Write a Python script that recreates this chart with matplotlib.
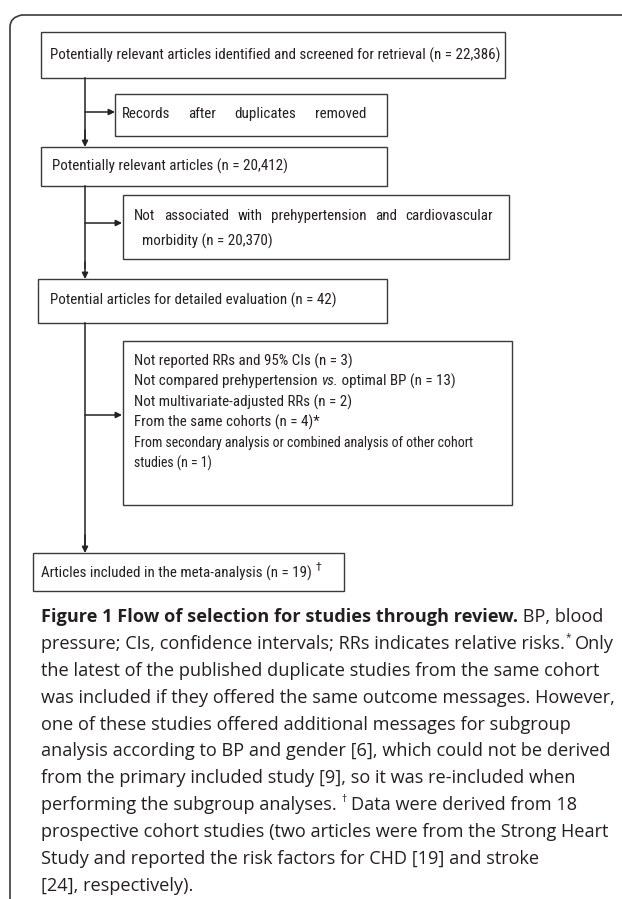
import matplotlib.pyplot as plt
from matplotlib import font_manager
from matplotlib.path import Path
from matplotlib.patches import PathPatch, Rectangle

# counts shown in the flow
n_screened = 22386
n_relevant = 20412
n_not_assoc = 20370
n_detailed = 42
n_excluded = [3, 13, 2, 4, 1]
n_included = 19

exclusion_reasons = [
    "Not reported RRs and 95% CIs",
    "Not compared prehypertension vs. optimal BP",
    "Not multivariate-adjusted RRs",
    "From the same cohorts",
    "From secondary analysis or combined analysis of other cohort studies",
]

caption_lines = [
    "pressure; CIs, confidence intervals; RRs indicates relative risks.",
    "the latest of the published duplicate studies from the same cohort",
    "was included if they offered the same outcome messages. However,",
    "one of these studies offered additional messages for subgroup",
    "analysis according to BP and gender [6], which could not be derived",
    "from the primary included study [9], so it was re-included when",
    "performing the subgroup analyses.",
    "prospective cohort studies (two articles were from the Strong Heart",
    "Study and reported the risk factors for CHD [19] and stroke",
    "[24], respectively).",
]

names = {f.name for f in font_manager.fontManager.ttflist}
box_font = 'Liberation Sans'
for cand in ['Liberation Sans Narrow', 'Arial Narrow', 'Nimbus Sans Narrow', 'Roboto Condensed']:
    if cand in names:
        box_font = cand
        break
cap_font = 'Open Sans'
ink = '#231f20'
line_c = '#3a3a3a'

fig = plt.figure(figsize=(6.22, 8.99), dpi=100)
ax = fig.add_axes([0, 0, 1, 1])
ax.set_xlim(0, 622)
ax.set_ylim(899, 0)
ax.axis('off')
renderer = fig.canvas.get_renderer()


def wpx(t):
    return t.get_window_extent(renderer).width


def fit_size(s, target, **kw):
    # font size that makes string s about target pixels wide
    t = ax.text(0, 0, s, fontsize=10, **kw)
    w = wpx(t)
    t.remove()
    return 10 * target / w


line1 = f"Potentially relevant articles identified and screened for retrieval (n = {n_screened:,})"
bsize = fit_size(line1, 447, family=box_font)


def box(x0, y0, x1, y1):
    ax.add_patch(Rectangle((x0, y0), x1 - x0, y1 - y0, fill=False,
                           ec=line_c, lw=1.0))


def btext(x, y, s, size=None, **kw):
    return ax.text(x, y, s, fontsize=size or bsize, family=box_font, color=ink,
                   va='center', **kw)


def justified(x0, x1, y, s):
    ts = [btext(0, y, w) for w in s.split()]
    ws = [wpx(t) for t in ts]
    gap = (x1 - x0 - sum(ws)) / (len(ts) - 1)
    x = x0
    for t, w in zip(ts, ws):
        t.set_x(x)
        x += w + gap


def arrow(x0, y0, x1, y1):
    ax.annotate('', xy=(x1, y1), xytext=(x0, y0),
                arrowprops=dict(arrowstyle='-|>', color='#222222', lw=1.1,
                                mutation_scale=9, shrinkA=0, shrinkB=0))


# outer frame with rounded top-left corner
verts = [(10, 899), (10, 27), (10, 17), (22, 15), (622, 15)]
codes = [Path.MOVETO, Path.LINETO, Path.CURVE3, Path.CURVE3, Path.LINETO]
ax.add_patch(PathPatch(Path(verts, codes), fill=False, ec=line_c, lw=1.2))

# box 1
box(41, 32, 505, 78)
btext(50, 55, line1)
# box 2
box(115, 94, 387, 136)
justified(122, 366, 114, "Records after duplicates removed")
# box 3
box(41, 147, 387, 186)
btext(52, 166, f"Potentially relevant articles (n = {n_relevant:,})")
# box 4
box(123, 195, 509, 259)
justified(134, 493, 216, "Not associated with prehypertension and cardiovascular")
btext(142, 241, f"morbidity (n = {n_not_assoc:,})")
# box 5
box(38, 279, 387, 323)
btext(50, 300, f"Potential articles for detailed evaluation (n = {n_detailed})")
# box 6
box(123, 341, 512, 505)
ys6 = [361, 381, 402, 422, 443, 463]
btext(134, ys6[0], f"{exclusion_reasons[0]} (n = {n_excluded[0]})")
t = btext(134, ys6[1], "Not compared prehypertension ")
x = 134 + wpx(t)
t = btext(x, ys6[1], "vs.", style='italic')
x += wpx(t)
btext(x, ys6[1], f" optimal BP (n = {n_excluded[1]})")
btext(134, ys6[2], f"{exclusion_reasons[2]} (n = {n_excluded[2]})")
btext(134, ys6[3], f"{exclusion_reasons[3]} (n = {n_excluded[3]})*")
btext(134, ys6[4], "From secondary analysis or combined analysis of other cohort", size=bsize * 0.92)
btext(134, ys6[5], f"studies (n = {n_excluded[4]})", size=bsize * 0.92)
# box 7
box(33, 553, 344, 591)
t = btext(41, 573, f"Articles included in the meta-analysis (n = {n_included}) ")
ax.text(41 + wpx(t), 566, "\u2020", fontsize=bsize * 0.75, family='DejaVu Sans',
        color=ink, va='center')

# connectors
ax.plot([85, 85], [78, 140], color='#222222', lw=1.1)
arrow(85, 112, 115, 112)
arrow(85, 130, 85, 147)
ax.plot([85, 85], [186, 268], color='#222222', lw=1.1)
arrow(85, 223, 122, 223)
arrow(85, 262, 85, 279)
ax.plot([85, 85], [323, 545], color='#222222', lw=1.1)
arrow(85, 415, 122, 415)
arrow(85, 535, 85, 553)

# caption
head = "Figure 1 Flow of selection for studies through review."
tmp_b = ax.text(0, 0, head, fontsize=10, family=cap_font, weight='bold')
tmp_r = ax.text(0, 0, " BP, blood", fontsize=10, family=cap_font)
csize = 10 * 562 / (wpx(tmp_b) + wpx(tmp_r))
tmp_b.remove()
tmp_r.remove()


def ctext(x, y, s, size=None, **kw):
    return ax.text(x, y, s, fontsize=size or csize, family=cap_font, color=ink,
                   va='center', **kw)


y = 617
step = 26.9
t = ctext(41, y, head, weight='bold')
ctext(41 + wpx(t), y, " BP, blood")
for i, line in enumerate(caption_lines):
    yy = y + step * (i + 1)
    t = ctext(41, yy, line)
    if i in (0, 6):
        mark, rest, pad = ("*", "Only", 1) if i == 0 else ("\u2020", "Data were derived from 18", 5)
        xx = 41 + wpx(t) + pad
        m = ctext(xx, yy - 6, mark, size=csize * 0.55)
        ctext(xx + wpx(m) + 4, yy, rest)

fig.savefig('out.png', dpi=100)
